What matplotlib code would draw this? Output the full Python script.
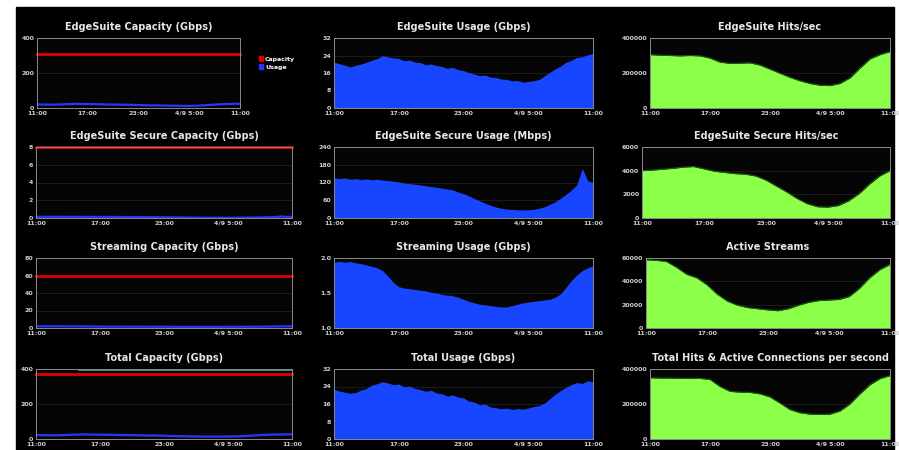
import numpy as np
import matplotlib
matplotlib.use('Agg')
import matplotlib.pyplot as plt
from matplotlib.patches import Rectangle, Patch

# time grid (hours after 11:00)
half_hours = np.linspace(0, 24, 49)
hours = np.linspace(0, 24, 25)
tick_hours = [0, 6, 12, 18, 24]
tick_labels = ['11:00', '17:00', '23:00', '4/9 5:00', '11:00']

# usage series (blue panels), half-hourly
es_usage = [21.0, 20.2, 19.6, 18.8, 19.5, 20.1, 20.9, 21.8, 22.6, 23.9,
            23.4, 22.9, 22.7, 21.6, 21.9, 21.0, 20.8, 19.7, 20.1, 19.4,
            19.0, 18.1, 18.6, 17.5, 17.1, 16.2, 15.5, 14.8, 15.1, 14.1,
            14.0, 13.2, 13.1, 12.4, 12.6, 11.8, 12.1, 12.5, 13.0, 14.7,
            16.3, 17.9, 19.2, 20.9, 21.8, 23.1, 23.4, 24.3, 25.0]
secure_usage = [136, 133, 135, 131, 133, 130, 132, 129, 131, 128,
                127, 124, 122, 118, 116, 114, 112, 109, 106, 104,
                101, 98, 95, 88, 82, 75, 66, 58, 50, 43,
                37, 33, 30, 29, 28, 27, 28, 29, 33, 38,
                46, 55, 67, 80, 95, 112, 168, 126, 120]
streaming_usage = [1.94, 1.95, 1.94, 1.95, 1.93, 1.92, 1.90, 1.88, 1.86, 1.82,
                   1.74, 1.65, 1.59, 1.57, 1.56, 1.55, 1.54, 1.53, 1.51, 1.50,
                   1.48, 1.47, 1.46, 1.44, 1.41, 1.38, 1.36, 1.34, 1.33, 1.32,
                   1.31, 1.30, 1.30, 1.32, 1.34, 1.36, 1.37, 1.38, 1.39, 1.40,
                   1.41, 1.44, 1.49, 1.58, 1.68, 1.76, 1.82, 1.86, 1.89]
total_usage = [22.8, 21.9, 21.4, 20.9, 21.2, 22.4, 23.1, 24.6, 25.3, 26.2,
               25.6, 24.8, 25.1, 23.9, 24.2, 23.1, 22.6, 21.8, 22.3, 21.0,
               20.7, 19.6, 20.2, 19.1, 18.8, 17.3, 16.9, 15.6, 15.9, 14.6,
               14.3, 13.8, 14.1, 13.5, 13.9, 13.6, 14.2, 14.8, 15.3, 16.4,
               18.4, 20.5, 22.1, 23.6, 24.9, 25.8, 25.4, 26.6, 26.2]

# hits / streams series (green panels), hourly
es_hits = [305000, 302000, 300000, 298000, 300000, 298000, 285000, 262000, 255000,
           256000, 258000, 245000, 222000, 198000, 175000, 155000, 140000, 130000,
           128000, 140000, 172000, 228000, 280000, 305000, 322000]
secure_hits = [4000, 4050, 4120, 4200, 4300, 4350, 4150, 3950, 3850, 3750, 3700,
               3550, 3200, 2700, 2200, 1650, 1200, 950, 920, 1050, 1450, 2050,
               2850, 3550, 4000]
active_streams = [58500, 58000, 57000, 52000, 46000, 43000, 37000, 29000, 23000,
                  19500, 17500, 16500, 15500, 14800, 16500, 19500, 22000, 23500,
                  24000, 24500, 27000, 34000, 43000, 50000, 54500]
total_hits = [350000, 348000, 348000, 346000, 347000, 346000, 340000, 300000, 272000,
              268000, 266000, 258000, 240000, 205000, 168000, 150000, 142000, 140000,
              142000, 160000, 200000, 258000, 310000, 345000, 362000]

# capacity lines
cap_time = [0, 24]
es_capacity = [310, 310]
secure_capacity = [8, 8]
streaming_capacity = [60, 60]
total_capacity = [370, 370]
total_alt_time = [4, 24]
total_alt = [395, 395]

W, H = 899, 450
BLUE = '#1846ff'
LINE_BLUE = '#2436ff'
RED = '#e00000'
GREEN = '#8cff48'

fig = plt.figure(figsize=(W / 100, H / 100), dpi=100, facecolor='white')
fig.patches.append(Rectangle((16 / W, 0), (894 - 16) / W, (H - 7) / H,
                             transform=fig.transFigure, color='black', zorder=-10))


def box(l, t, r, b):
    return [l / W, 1 - b / H, (r - l) / W, (b - t) / H]


def style(ax, title, yticks, ylabels):
    ax.set_facecolor('#050505')
    ax.set_xlim(0, 24)
    ax.set_ylim(yticks[0], yticks[-1])
    ax.set_xticks(tick_hours)
    ax.set_xticklabels(tick_labels, fontweight='bold')
    ax.set_yticks(yticks)
    ax.set_yticklabels(ylabels, fontweight='bold')
    for s in ax.spines.values():
        s.set_color('#8a8a8a')
        s.set_linewidth(0.7)
    ax.tick_params(length=0, labelsize=4.5, colors='#d0d0d0', pad=2)
    ax.grid(axis='y', color='#242424', lw=0.5)
    ax.set_axisbelow(True)
    ax.set_title(title, color='#e6e6e6', fontsize=7, fontweight='bold', pad=6)


rows = [(38, 108), (147, 218), (258, 328), (369, 439)]

# column 1: capacity
cap_specs = [
    ('EdgeSuite Capacity (Gbps)', es_capacity, es_usage, [0, 200, 400], (37, 240)),
    ('EdgeSuite Secure Capacity (Gbps)', secure_capacity,
     [v / 1000 for v in secure_usage], [0, 2, 4, 6, 8], (36, 292)),
    ('Streaming Capacity (Gbps)', streaming_capacity, streaming_usage,
     [0, 20, 40, 60, 80], (36, 292)),
    ('Total Capacity (Gbps)', total_capacity, total_usage, [0, 200, 400], (36, 292)),
]
for i, (title, cap, use, yt, (l, r)) in enumerate(cap_specs):
    t, b = rows[i]
    ax = fig.add_axes(box(l, t, r, b))
    style(ax, title, yt, [str(v) for v in yt])
    ax.plot(cap_time, cap, color=RED, lw=2, clip_on=False)
    ax.plot(half_hours, use, color=LINE_BLUE, lw=1.6)
    if i == 3:
        ax.plot(total_alt_time, total_alt, color='#1f9a78', lw=1.4, clip_on=False)
    if i == 0:
        handles = [Patch(color=RED, label='Capacity'), Patch(color=LINE_BLUE, label='Usage')]
        leg = ax.legend(handles=handles, loc='upper left', bbox_to_anchor=(1.08, 0.78),
                        frameon=False, fontsize=4.5, handlelength=0.7, handleheight=0.9,
                        handletextpad=0.3, labelspacing=0.4, borderaxespad=0)
        for txt in leg.get_texts():
            txt.set_color('white')
            txt.set_fontweight('bold')

# column 2: usage
use_specs = [
    ('EdgeSuite Usage (Gbps)', es_usage, [0, 8, 16, 24, 32], ['0', '8', '16', '24', '32']),
    ('EdgeSuite Secure Usage (Mbps)', secure_usage, [0, 60, 120, 180, 240],
     ['0', '60', '120', '180', '240']),
    ('Streaming Usage (Gbps)', streaming_usage, [1.0, 1.5, 2.0], ['1.0', '1.5', '2.0']),
    ('Total Usage (Gbps)', total_usage, [0, 8, 16, 24, 32], ['0', '8', '16', '24', '32']),
]
for i, (title, vals, yt, yl) in enumerate(use_specs):
    t, b = rows[i]
    ax = fig.add_axes(box(334, t, 593, b))
    style(ax, title, yt, yl)
    ax.fill_between(half_hours, yt[0], vals, color=BLUE, lw=0)

# column 3: hits / streams
hit_specs = [
    ('EdgeSuite Hits/sec', es_hits, [0, 200000, 400000], 650),
    ('EdgeSuite Secure Hits/sec', secure_hits, [0, 2000, 4000, 6000], 642),
    ('Active Streams', active_streams, [0, 20000, 40000, 60000], 646),
    ('Total Hits & Active Connections per second', total_hits, [0, 200000, 400000], 650),
]
for i, (title, vals, yt, l) in enumerate(hit_specs):
    t, b = rows[i]
    ax = fig.add_axes(box(l, t, 890, b))
    style(ax, title, yt, [str(v) for v in yt])
    ax.fill_between(hours, 0, vals, color=GREEN, lw=0)
    ax.plot(hours, vals, color='#1e5c10', lw=0.8)

fig.savefig('out.png', dpi=100, facecolor=fig.get_facecolor())
